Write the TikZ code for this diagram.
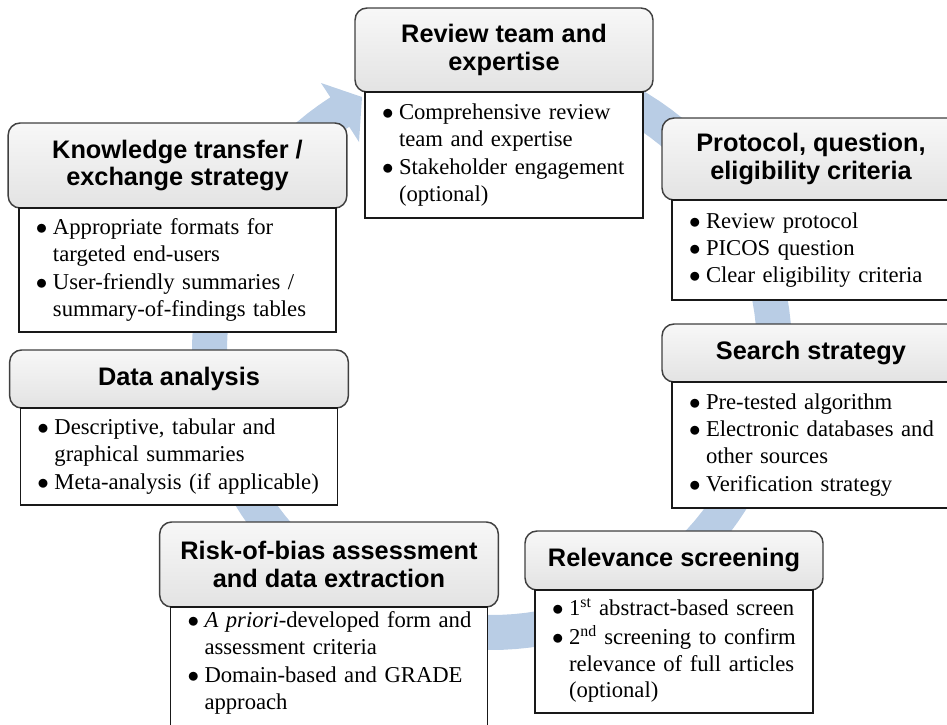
\documentclass[tikz,border=0pt]{standalone}
\usepackage{fontspec}
\setmainfont{Liberation Serif}
\newfontfamily\headfont{Liberation Sans}
\usetikzlibrary{positioning}
\definecolor{bandblue}{HTML}{B9CDE5}
\definecolor{headline}{HTML}{404040}
\newcommand{\bitem}[1]{\noindent\makebox[12.75pt][l]{$\bullet$}\begin{tabular}[t]{@{}l@{}}#1\end{tabular}\par}

\tikzset{
  boxhead/.style={draw=headline, line width=1.1pt, rounded corners=9pt, top color=black!3, bottom color=black!11,
    align=center, inner sep=0pt, outer sep=0pt, font=\headfont\bfseries\fontsize{19pt}{20.5pt}\selectfont},
  headnarrow/.style={boxhead, minimum width=223.5pt},
  headwide/.style={boxhead, minimum width=254pt},
  boxbody/.style={draw=black!90, line width=1.1pt, fill=white, align=left, inner xsep=12.75pt, inner ysep=0pt,
    outer sep=0pt, font=\fontsize{17pt}{20pt}\selectfont},
  bodynarrow/.style={boxbody, text width=183pt},
  bodywide/.style={boxbody, text width=212.25pt},
}

\begin{document}
\begin{tikzpicture}[x=0.75pt, y=-0.75pt]
  \useasboundingbox (0,0) rectangle (947,725);
  \clip (0,0) rectangle (947,725);

  % Freccia circolare di sfondo
  \fill[bandblue] plot[domain=-80:237.4, samples=120] ({492+300*cos(\x)},{350+300*sin(\x)})
    -- (321,83) -- (362,97) -- (359,142)
    -- plot[domain=237.4:-80, samples=120] ({492+265*cos(\x)},{350+265*sin(\x)}) -- cycle;

  % Review team
  \node[headnarrow, minimum height=63pt] (revhead) at (504,50) {Review team and\\expertise};
  \node[bodynarrow, minimum height=94.5pt, below=0pt of revhead] (revbody)
    {\bitem{Comprehensive review\\team and expertise}\bitem{Stakeholder engagement\\(optional)}};

  % Protocol
  \node[headnarrow, minimum height=61.5pt] (prothead) at (811,159) {Protocol, question,\\eligibility criteria};
  \node[bodynarrow, minimum height=75pt, below=0pt of prothead] (protbody)
    {\bitem{Review protocol}\bitem{PICOS question}\bitem{Clear eligibility criteria}};

  % Search strategy
  \node[headnarrow, minimum height=43.5pt] (srchhead) at (811,353) {Search strategy};
  \node[bodynarrow, minimum height=94.5pt, below=0pt of srchhead] (srchbody)
    {\bitem{Pre-tested algorithm}\bitem{Electronic databases and\\other sources}\bitem{Verification strategy}};

  % Relevance screening
  \node[headnarrow, minimum height=44.25pt] (relhead) at (674,560.5) {Relevance screening};
  \node[bodynarrow, minimum height=92.25pt, below=0pt of relhead] (relbody)
    {\bitem{1\textsuperscript{st} abstract-based screen}\bitem{2\textsuperscript{nd} screening to confirm\\relevance of full articles\\(optional)}};

  % Risk of bias
  \node[headwide, minimum height=63.75pt] (riskhead) at (329,564.5) {Risk-of-bias assessment\\and data extraction};
  \node[bodywide, inner ysep=1.5pt, text depth=100pt, below=0pt of riskhead] (riskbody)
    {\bitem{\textit{A priori}-developed form and\\assessment criteria}\bitem{Domain-based and GRADE\\approach}};

  % Data analysis
  \node[headwide, minimum height=43.5pt] (datahead) at (179,379) {Data analysis};
  \node[bodywide, minimum height=72.75pt, below=0pt of datahead] (databody)
    {\bitem{Descriptive, tabular and\\graphical summaries}\bitem{Meta-analysis (if applicable)}};

  % Knowledge transfer
  \node[headwide, minimum height=63.75pt] (kthead) at (177.5,165.5) {Knowledge transfer /\\exchange strategy};
  \node[bodywide, minimum height=93pt, below=0pt of kthead] (ktbody)
    {\bitem{Appropriate formats for\\targeted end-users}\bitem{User-friendly summaries /\\summary-of-findings tables}};
\end{tikzpicture}
\end{document}
